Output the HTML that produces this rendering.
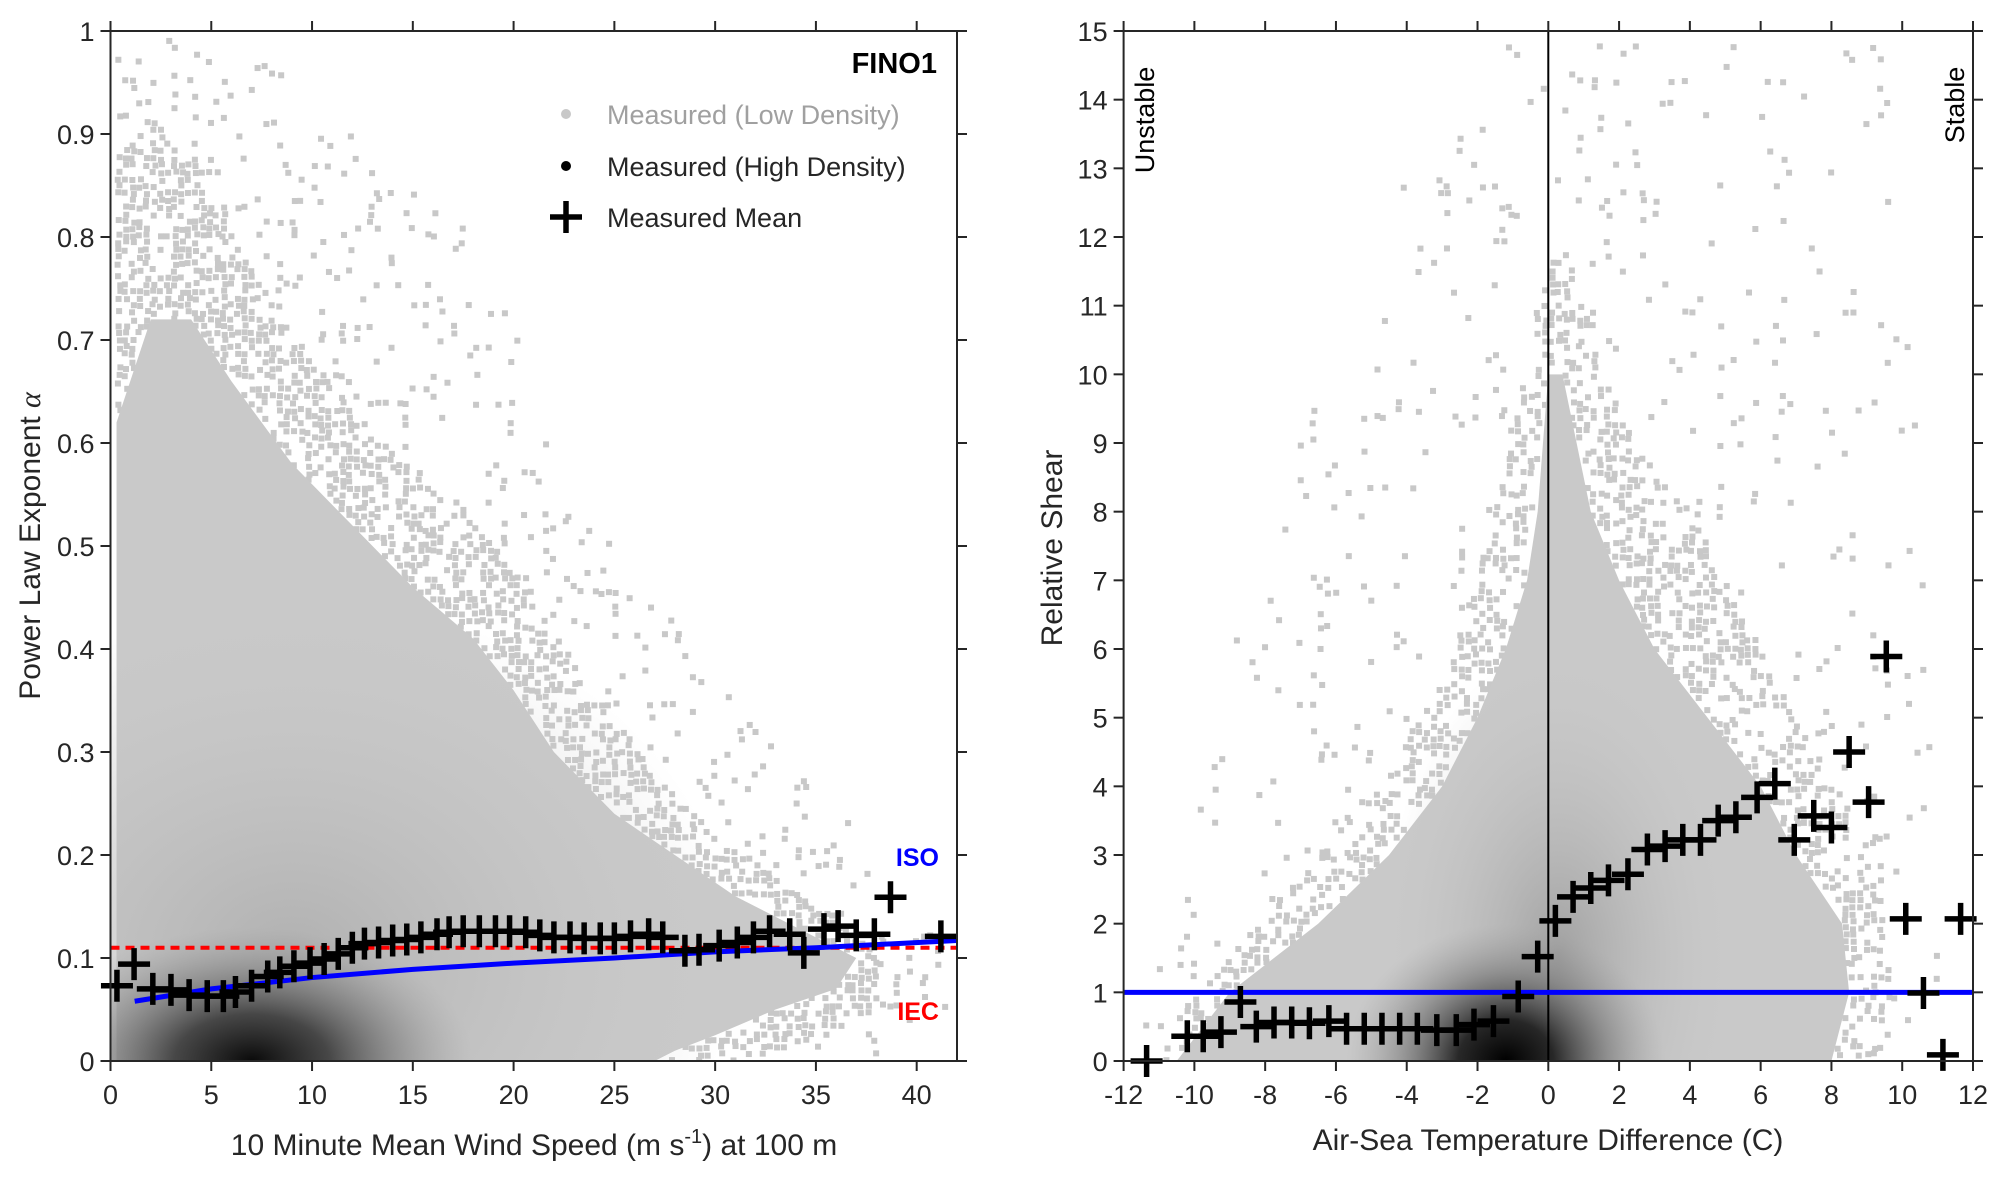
<!DOCTYPE html>
<html><head><meta charset="utf-8"><style>
html,body{margin:0;padding:0;background:#fff;width:2007px;height:1180px;overflow:hidden;}
svg{display:block;font-family:"Liberation Sans",Arial,sans-serif;}
</style></head><body>
<svg id="fig" width="2007" height="1180" viewBox="0 0 2007 1180" xmlns="http://www.w3.org/2000/svg">
<defs>
<clipPath id="clipL"><rect x="110.5" y="31" width="846.5" height="1030"/></clipPath>
<clipPath id="clipR"><rect x="1123.6" y="31" width="849.4" height="1030"/></clipPath>
<radialGradient id="gL1"><stop offset="0" stop-color="#b0b0b0" stop-opacity="1"/><stop offset="1" stop-color="#c9c9c9" stop-opacity="0"/></radialGradient>
<radialGradient id="gL2"><stop offset="0" stop-color="#0a0a0a"/><stop offset="0.35" stop-color="#3a3a3a" stop-opacity="0.9"/><stop offset="0.7" stop-color="#7a7a7a" stop-opacity="0.5"/><stop offset="1" stop-color="#a0a0a0" stop-opacity="0"/></radialGradient>
<radialGradient id="gR1"><stop offset="0" stop-color="#a0a0a0"/><stop offset="1" stop-color="#c9c9c9" stop-opacity="0"/></radialGradient>
<radialGradient id="gR2"><stop offset="0" stop-color="#000"/><stop offset="0.3" stop-color="#202020" stop-opacity="0.95"/><stop offset="0.65" stop-color="#707070" stop-opacity="0.55"/><stop offset="1" stop-color="#a0a0a0" stop-opacity="0"/></radialGradient>
</defs>
<g id="left"></g>
<g id="right"></g>
</svg>
<script>
// ---- Left panel data ----
const lMeanX=[0.32,1.17,2.1,3.0,3.9,4.8,5.6,6.2,7.0,7.8,8.4,9.1,9.9,10.6,11.3,12.0,12.6,13.3,14.0,14.7,15.4,16.2,16.8,17.5,18.3,19.1,19.8,20.6,21.3,22.0,22.8,23.5,24.3,25.0,25.8,26.7,27.4,28.5,29.2,30.2,31.1,31.9,32.7,33.7,34.4,35.4,36.1,37.0,37.9,38.7,41.2];
const lMeanY=[0.073,0.094,0.07,0.069,0.064,0.063,0.063,0.067,0.073,0.082,0.086,0.092,0.095,0.099,0.104,0.11,0.114,0.115,0.117,0.118,0.12,0.123,0.125,0.126,0.126,0.126,0.126,0.125,0.122,0.12,0.12,0.119,0.119,0.119,0.121,0.123,0.12,0.107,0.108,0.112,0.115,0.12,0.126,0.123,0.105,0.128,0.131,0.122,0.123,0.159,0.121];
const isoX=[1.2,5,10,15,20,25,30,35,42];
const isoY=[0.058,0.07,0.081,0.089,0.095,0.1,0.106,0.11,0.117];
const iecY=[0.11];
const lCloudX=[0.3,0.3,2,4,6,9,12,15,18,20,22,25,28,31,34,37,36,33,30,28,27];
const lCloudY=[0,0.62,0.72,0.72,0.66,0.58,0.52,0.46,0.41,0.36,0.3,0.24,0.2,0.16,0.13,0.1,0.07,0.05,0.025,0.01,0];
const lDenseX=[0.3,0.3,2,4,7,10,13,16,19,21,24,27,30,33,36,38,38,35,32,28];
const lDenseY=[0,0.86,0.92,0.87,0.77,0.68,0.61,0.56,0.5,0.45,0.36,0.28,0.22,0.18,0.14,0.11,0.05,0.02,0,0];
const lSparseX=[0.3,0.3,3,8,12,18,22,27,33,40,41.5,41.5,36,30];
const lSparseY=[0,1,1,0.98,0.9,0.8,0.62,0.46,0.3,0.17,0.1,0.02,0,0];
const lXTicks=[0,5,10,15,20,25,30,35,40];
const lYTicks=[0,0.1,0.2,0.3,0.4,0.5,0.6,0.7,0.8,0.9,1];
const lYTickLabels=["0","0.1","0.2","0.3","0.4","0.5","0.6","0.7","0.8","0.9","1"];
// ---- Right panel data ----
const rMeanX=[-11.35,-10.2,-9.75,-9.25,-8.7,-8.25,-7.75,-7.25,-6.75,-6.2,-5.7,-5.2,-4.7,-4.2,-3.7,-3.15,-2.6,-2.1,-1.55,-0.85,-0.3,0.2,0.7,1.2,1.7,2.25,2.8,3.3,3.8,4.3,4.8,5.3,5.9,6.4,6.95,7.5,8.0,8.5,9.05,9.55,10.1,10.6,11.15,11.65];
const rMeanY=[0,0.36,0.36,0.42,0.86,0.5,0.56,0.56,0.55,0.58,0.47,0.47,0.47,0.47,0.47,0.45,0.45,0.53,0.58,0.94,1.52,2.04,2.39,2.52,2.63,2.72,3.08,3.13,3.22,3.22,3.5,3.55,3.84,4.04,3.22,3.57,3.4,4.5,3.77,5.89,2.07,0.99,0.09,2.07];
const rRefY=[1];
const rCloudX=[-10.5,-9,-6.5,-4.5,-3,-2,-1.2,-0.6,-0.3,0,0.4,0.8,1.2,2,3,4.5,6,7,8.3,8.5,8];
const rCloudY=[0,1,2,3,4,5,6,7,8,10,10,9,8,7,6,5,4,3,2,1,0];
const rDenseX=[-10.8,-10.3,-8.5,-6.5,-4.5,-3,-2,-1,-0.3,0.5,1.5,2.5,4,5.5,7,8.3,9.3,9.8,9.6];
const rDenseY=[0,0.8,1.8,3,4.3,5.5,7,9,11,12,10,9,8,6.5,5,4,2.5,1,0];
const rSparseX=[-11.5,-11,-9,-7,-4,-2,0,4,8,10,10.5,11,11];
const rSparseY=[0,2,6,9,13,14.8,15,15,15,15,8,3,0];
const rXTicks=[-12,-10,-8,-6,-4,-2,0,2,4,6,8,10,12];
const rYTicks=[0,1,2,3,4,5,6,7,8,9,10,11,12,13,14,15];

const NS="http://www.w3.org/2000/svg";
function mk(tag,attrs,parent){const e=document.createElementNS(NS,tag);for(const k in attrs)e.setAttribute(k,attrs[k]);parent.appendChild(e);return e;}
let seed=12345;function rnd(){seed=(seed*1103515245+12345)%2147483648;return seed/2147483648;}

const TOP=31,BOT=1061;
const L={x0:110.5,x1:957,xmin:0,xmax:42,ymin:0,ymax:1};
const lx=v=>L.x0+(v-L.xmin)/(L.xmax-L.xmin)*(L.x1-L.x0);
const ly=v=>BOT-(v-L.ymin)/(L.ymax-L.ymin)*(BOT-TOP);
const R={x0:1123.6,x1:1973,xmin:-12,xmax:12,ymin:0,ymax:15};
const rx=v=>R.x0+(v-R.xmin)/(R.xmax-R.xmin)*(R.x1-R.x0);
const ry=v=>BOT-(v-R.ymin)/(R.ymax-R.ymin)*(BOT-TOP);

function inPoly(px,py,xs,ys){let c=false;for(let i=0,j=xs.length-1;i<xs.length;j=i++){if(((ys[i]>py)!=(ys[j]>py))&&(px<(xs[j]-xs[i])*(py-ys[i])/(ys[j]-ys[i])+xs[i]))c=!c;}return c;}

function speckle(c,fx,fy,x0,x1,inner,dense,sparse,pd,ps){
  for(let X=x0;X<x1;X+=7){
    for(let Y=TOP;Y<BOT;Y+=7){
      const px=X+rnd()*3,py=Y+rnd()*3;
      const dx=fx(px),dy=fy(py);
      if(inPoly(dx,dy,inner[0],inner[1]))continue;
      let p=0;
      if(inPoly(dx,dy,dense[0],dense[1]))p=pd;
      else if(inPoly(dx,dy,sparse[0],sparse[1]))p=ps;
      if(p>0&&rnd()<p)mk('rect',{x:px-3,y:py-3,width:6,height:6,fill:'#c8c8c8'},c);
    }
  }
}

function cross(g,cx,cy,name){
  const p=mk('path',{d:`M${cx-16},${cy}H${cx+16}M${cx},${cy-16}V${cy+16}`,stroke:'#000','stroke-width':5.5,fill:'none'},g);
  
  
}
function axesFrame(g,x0,x1,xt,xf,yt,yf,xlabels,ylabels){
  mk('rect',{x:x0,y:TOP,width:x1-x0,height:BOT-TOP,fill:'none',stroke:'#262626','stroke-width':2},g);
  xt.forEach((v,i)=>{const X=xf(v);
    mk('line',{x1:X,y1:BOT,x2:X,y2:BOT+10,stroke:'#262626','stroke-width':2},g);
    mk('line',{x1:X,y1:TOP,x2:X,y2:TOP-10,stroke:'#262626','stroke-width':2},g);
    const t=mk('text',{x:X,y:BOT+43,'text-anchor':'middle','font-size':27,fill:'#262626'},g);t.textContent=xlabels[i];
    
    
  });
  yt.forEach((v,i)=>{const Y=yf(v);
    mk('line',{x1:x0,y1:Y,x2:x0-10,y2:Y,stroke:'#262626','stroke-width':2},g);
    mk('line',{x1:x1,y1:Y,x2:x1+10,y2:Y,stroke:'#262626','stroke-width':2},g);
    const t=mk('text',{x:x0-16,y:Y+10,'text-anchor':'end','font-size':27,fill:'#262626'},g);t.textContent=ylabels[i];
    
    
  });
}

// ===== LEFT =====
(function(){
const g=document.getElementById('left');
const c=mk('g',{'clip-path':'url(#clipL)'},g);
const inv_x=p=>L.xmin+(p-L.x0)/(L.x1-L.x0)*(L.xmax-L.xmin);
const inv_y=p=>L.ymin+(BOT-p)/(BOT-TOP)*(L.ymax-L.ymin);
speckle(c,inv_x,inv_y,L.x0,L.x1,[lCloudX,lCloudY],[lDenseX,lDenseY],[lSparseX,lSparseY],0.62,0.08);
const cloud=mk('polygon',{points:lCloudX.map((v,i)=>lx(v)+','+ly(lCloudY[i])).join(' '),fill:'#c9c9c9'},c);


mk('ellipse',{cx:lx(9),cy:ly(0.1),rx:lx(22)-lx(0),ry:ly(0)-ly(0.35),fill:'url(#gL1)'},c);
mk('ellipse',{cx:lx(7),cy:ly(0),rx:lx(11)-lx(0),ry:ly(0)-ly(0.13),fill:'url(#gL2)'},c);
const iec=mk('line',{x1:lx(0),y1:ly(iecY[0]),x2:lx(42),y2:ly(iecY[0]),stroke:'#ff0000','stroke-width':4,'stroke-dasharray':'9,6'},c);


const iso=mk('polyline',{points:isoX.map((v,i)=>lx(v)+','+ly(isoY[i])).join(' '),fill:'none',stroke:'#0000ff','stroke-width':5},c);


lMeanX.forEach((v,i)=>cross(g,lx(v),ly(lMeanY[i]),'mean-marker'));
axesFrame(g,L.x0,L.x1,lXTicks,lx,lYTicks,ly,lXTicks.map(String),lYTickLabels);
let t=mk('text',{x:534,y:1155,'text-anchor':'middle','font-size':30,fill:'#262626'},g);
t.innerHTML='10 Minute Mean Wind Speed (m s<tspan dy="-12" font-size="20">-1</tspan><tspan dy="12">) at 100 m</tspan>';


t=mk('text',{x:0,y:0,transform:'translate(40,546) rotate(-90)','text-anchor':'middle','font-size':30,fill:'#262626'},g);
t.innerHTML='Power Law Exponent <tspan font-family="Liberation Serif" font-style="italic">α</tspan>';


t=mk('text',{x:937,y:73,'text-anchor':'end','font-size':29,'font-weight':'bold',fill:'#000'},g);t.textContent='FINO1';


const lg=mk('g',{},g);


mk('circle',{cx:566,cy:114,r:5,fill:'#c8c8c8'},lg);
t=mk('text',{x:607,y:124,'font-size':27,fill:'#a0a0a0'},lg);t.textContent='Measured (Low Density)';


mk('circle',{cx:566,cy:166,r:5,fill:'#000'},lg);
t=mk('text',{x:607,y:176,'font-size':27,fill:'#262626'},lg);t.textContent='Measured (High Density)';


mk('path',{d:'M550,217H582M566,201V233',stroke:'#000','stroke-width':5.5},lg);
t=mk('text',{x:607,y:227,'font-size':27,fill:'#262626'},lg);t.textContent='Measured Mean';


t=mk('text',{x:939,y:866,'text-anchor':'end','font-size':25,'font-weight':'bold',fill:'#0000ff'},g);t.textContent='ISO';


t=mk('text',{x:939,y:1020,'text-anchor':'end','font-size':25,'font-weight':'bold',fill:'#ff0000'},g);t.textContent='IEC';


})();

// ===== RIGHT =====
(function(){
const g=document.getElementById('right');
const c=mk('g',{'clip-path':'url(#clipR)'},g);
const inv_x=p=>R.xmin+(p-R.x0)/(R.x1-R.x0)*(R.xmax-R.xmin);
const inv_y=p=>R.ymin+(BOT-p)/(BOT-TOP)*(R.ymax-R.ymin);
speckle(c,inv_x,inv_y,R.x0,R.x1,[rCloudX,rCloudY],[rDenseX,rDenseY],[rSparseX,rSparseY],0.45,0.035);
const cloud=mk('polygon',{points:rCloudX.map((v,i)=>rx(v)+','+ry(rCloudY[i])).join(' '),fill:'#c9c9c9'},c);


mk('ellipse',{cx:rx(0.3),cy:ry(1.5),rx:rx(5)-rx(0),ry:ry(0)-ry(4.5),fill:'url(#gR1)'},c);
mk('ellipse',{cx:rx(-1.2),cy:ry(0),rx:rx(4.5)-rx(0),ry:ry(0)-ry(2),fill:'url(#gR2)'},c);
const zl=mk('line',{x1:rx(0),y1:TOP,x2:rx(0),y2:BOT,stroke:'#000','stroke-width':2},c);


const ref=mk('line',{x1:R.x0,y1:ry(rRefY[0]),x2:R.x1,y2:ry(rRefY[0]),stroke:'#0000ff','stroke-width':5},c);


rMeanX.forEach((v,i)=>cross(g,rx(v),ry(rMeanY[i]),'mean-marker'));
axesFrame(g,R.x0,R.x1,rXTicks,rx,rYTicks,ry,rXTicks.map(String),rYTicks.map(String));
let t=mk('text',{x:1548,y:1150,'text-anchor':'middle','font-size':30,fill:'#262626'},g);t.textContent='Air-Sea Temperature Difference (C)';


t=mk('text',{x:0,y:0,transform:'translate(1062,548) rotate(-90)','text-anchor':'middle','font-size':30,fill:'#262626'},g);t.textContent='Relative Shear';


t=mk('text',{x:0,y:0,transform:'translate(1154,120) rotate(-90)','text-anchor':'middle','font-size':27,fill:'#000'},g);t.textContent='Unstable';


t=mk('text',{x:0,y:0,transform:'translate(1964,105) rotate(-90)','text-anchor':'middle','font-size':27,fill:'#000'},g);t.textContent='Stable';


})();
</script>
</body></html>
